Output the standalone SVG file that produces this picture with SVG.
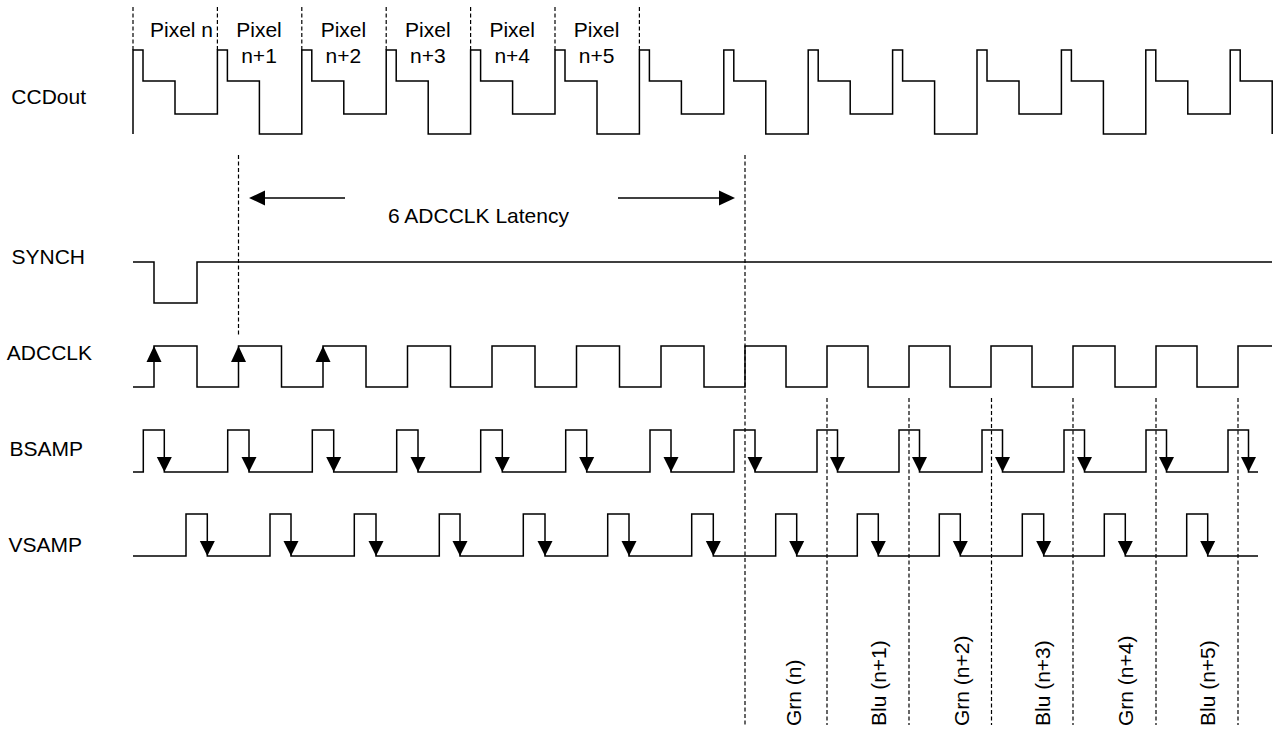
<svg xmlns="http://www.w3.org/2000/svg" xmlns:xlink="http://www.w3.org/1999/xlink" width="1276" height="729" viewBox="0 0 1276 729">
<style>
  .bg { fill: #ffffff; }
  .wave { fill: none; stroke: #000; stroke-width: 1.5; stroke-linejoin: miter; }
  .dash { fill: none; stroke: #000; stroke-width: 1.2; stroke-dasharray: 4 2.5; }
  .line { fill: none; stroke: #000; stroke-width: 1.5; }
  .head { fill: #000; stroke: none; }
  .lbl { font-family: "Liberation Sans", Arial, Helvetica, sans-serif; font-size: 21px; fill: #000; }
  .mid { text-anchor: middle; }
  .end { text-anchor: end; }
</style>
<defs>
  <path id="ahDown" class="head" d="M0,0 L-7.5,-15 L7.5,-15 Z"/>
  <path id="ahUp" class="head" d="M0,0 L-7.5,16 L7.5,16 Z"/>
  <path id="ahLeft" class="head" d="M0,0 L16,-7.5 L16,7.5 Z"/>
  <path id="ahRight" class="head" d="M0,0 L-16,-7.5 L-16,7.5 Z"/>
</defs>
<rect class="bg" x="0" y="0" width="1276" height="729"/>

<g id="ccdout">
  <text class="lbl end" x="86" y="104">CCDout</text>
  <path class="wave" d="M133,134 V50 H143 V81 H175 V114 H217.4 V50 H227.4 V81 H259.4 V134 H301.8 V50 H311.8 V81 H343.8 V114 H386.2 V50 H396.2 V81 H428.2 V134 H470.6 V50 H480.6 V81 H512.6 V114 H555 V50 H565 V81 H597 V134 H639.4 V50 H649.4 V81 H681.4 V114 H723.8 V50 H733.8 V81 H765.8 V134 H808.2 V50 H818.2 V81 H850.2 V114 H892.6 V50 H902.6 V81 H934.6 V134 H977 V50 H987 V81 H1019 V114 H1061.4 V50 H1071.4 V81 H1103.4 V134 H1145.8 V50 H1155.8 V81 H1187.8 V114 H1230.2 V50 H1240.2 V81 H1272.2 V134"/>
</g>

<g id="pixel-labels">
  <path class="dash" d="M133,7 V50 M217.4,7 V50 M301.8,7 V50 M386.2,7 V50 M470.6,7 V50 M555,7 V50 M639.4,7 V50"/>
  <text class="lbl" x="150" y="37">Pixel n</text>
  <text class="lbl mid" x="259" y="37">Pixel</text>
  <text class="lbl mid" x="259" y="63">n+1</text>
  <text class="lbl mid" x="343.4" y="37">Pixel</text>
  <text class="lbl mid" x="343.4" y="63">n+2</text>
  <text class="lbl mid" x="427.8" y="37">Pixel</text>
  <text class="lbl mid" x="427.8" y="63">n+3</text>
  <text class="lbl mid" x="512.2" y="37">Pixel</text>
  <text class="lbl mid" x="512.2" y="63">n+4</text>
  <text class="lbl mid" x="596.6" y="37">Pixel</text>
  <text class="lbl mid" x="596.6" y="63">n+5</text>
</g>

<g id="synch">
  <text class="lbl end" x="85" y="264">SYNCH</text>
  <path class="wave" d="M133,262 H154 V303 H197 V262 H1272"/>
</g>

<g id="adcclk">
  <text class="lbl end" x="92" y="360">ADCCLK</text>
  <path class="wave" d="M133,387 H154 V346 H197 V387 H238.5 V346 H281.5 V387 H323 V346 H366 V387 H407.5 V346 H450.5 V387 H492 V346 H535 V387 H576.5 V346 H619.5 V387 H661 V346 H704 V387 H745 V346 H786 V387 H827 V346 H868 V387 H909 V346 H950 V387 H991 V346 H1032 V387 H1073 V346 H1115 V387 H1156 V346 H1197 V387 H1238 V346 H1272"/>
  <use href="#ahUp" xlink:href="#ahUp" x="154" y="346"/>
  <use href="#ahUp" xlink:href="#ahUp" x="238.5" y="346"/>
  <use href="#ahUp" xlink:href="#ahUp" x="323" y="346"/>
</g>

<g id="bsamp">
  <text class="lbl end" x="83" y="456">BSAMP</text>
  <path class="wave" d="M133,472 H143.3 V430 H164.3 V472 H227.7 V430 H249 V472 H312.3 V430 H333.7 V472 H396.7 V430 H418 V472 H480.7 V430 H502.3 V472 H565.7 V430 H586.7 V472 H650 V430 H671 V472 H734 V430 H755 V472 H817 V430 H837.5 V472 H899 V430 H919.5 V472 H982 V430 H1002.5 V472 H1064 V430 H1084.5 V472 H1146 V430 H1166.5 V472 H1228 V430 H1248.5 V472 H1258"/>
  <use href="#ahDown" xlink:href="#ahDown" x="164.3" y="472"/>
  <use href="#ahDown" xlink:href="#ahDown" x="249" y="472"/>
  <use href="#ahDown" xlink:href="#ahDown" x="333.7" y="472"/>
  <use href="#ahDown" xlink:href="#ahDown" x="418" y="472"/>
  <use href="#ahDown" xlink:href="#ahDown" x="502.3" y="472"/>
  <use href="#ahDown" xlink:href="#ahDown" x="586.7" y="472"/>
  <use href="#ahDown" xlink:href="#ahDown" x="671" y="472"/>
  <use href="#ahDown" xlink:href="#ahDown" x="755" y="472"/>
  <use href="#ahDown" xlink:href="#ahDown" x="837.5" y="472"/>
  <use href="#ahDown" xlink:href="#ahDown" x="919.5" y="472"/>
  <use href="#ahDown" xlink:href="#ahDown" x="1002.5" y="472"/>
  <use href="#ahDown" xlink:href="#ahDown" x="1084.5" y="472"/>
  <use href="#ahDown" xlink:href="#ahDown" x="1166.5" y="472"/>
  <use href="#ahDown" xlink:href="#ahDown" x="1248.5" y="472"/>
</g>

<g id="vsamp">
  <text class="lbl end" x="82" y="552">VSAMP</text>
  <path class="wave" d="M133,556 H186 V514 H207.3 V556 H270 V514 H291 V556 H354.3 V514 H376 V556 H439.3 V514 H460 V556 H523.3 V514 H545 V556 H607.7 V514 H629 V556 H691.7 V514 H713.3 V556 H775.7 V514 H796.7 V556 H857.3 V514 H878.3 V556 H939.3 V514 H960.3 V556 H1022.3 V514 H1043.7 V556 H1104.3 V514 H1125.3 V556 H1186.7 V514 H1207.7 V556 H1258"/>
  <use href="#ahDown" xlink:href="#ahDown" x="207.3" y="556"/>
  <use href="#ahDown" xlink:href="#ahDown" x="291" y="556"/>
  <use href="#ahDown" xlink:href="#ahDown" x="376" y="556"/>
  <use href="#ahDown" xlink:href="#ahDown" x="460" y="556"/>
  <use href="#ahDown" xlink:href="#ahDown" x="545" y="556"/>
  <use href="#ahDown" xlink:href="#ahDown" x="629" y="556"/>
  <use href="#ahDown" xlink:href="#ahDown" x="713.3" y="556"/>
  <use href="#ahDown" xlink:href="#ahDown" x="796.7" y="556"/>
  <use href="#ahDown" xlink:href="#ahDown" x="878.3" y="556"/>
  <use href="#ahDown" xlink:href="#ahDown" x="960.3" y="556"/>
  <use href="#ahDown" xlink:href="#ahDown" x="1043.7" y="556"/>
  <use href="#ahDown" xlink:href="#ahDown" x="1125.3" y="556"/>
  <use href="#ahDown" xlink:href="#ahDown" x="1207.7" y="556"/>
</g>

<g id="connectors">
  <path class="dash" d="M238.5,155 V337 M745,155 V725 M827,398 V725 M909,398 V725 M991.5,398 V725 M1073,398 V725 M1156,398 V725 M1238,398 V725"/>
  <line class="line" x1="345" y1="198" x2="262" y2="198"/>
  <use href="#ahLeft" xlink:href="#ahLeft" x="249" y="198"/>
  <line class="line" x1="618" y1="198" x2="722" y2="198"/>
  <use href="#ahRight" xlink:href="#ahRight" x="735" y="198"/>
</g>

<g id="latency-label">
  <text class="lbl" x="388" y="223">6 ADCCLK Latency</text>
</g>

<g id="sample-labels">
  <text class="lbl" transform="translate(801,726) rotate(-90)">Grn (n)</text>
  <text class="lbl" transform="translate(886,726) rotate(-90)">Blu (n+1)</text>
  <text class="lbl" transform="translate(969,726) rotate(-90)">Grn (n+2)</text>
  <text class="lbl" transform="translate(1050,726) rotate(-90)">Blu (n+3)</text>
  <text class="lbl" transform="translate(1133,726) rotate(-90)">Grn (n+4)</text>
  <text class="lbl" transform="translate(1215,726) rotate(-90)">Blu (n+5)</text>
</g>
</svg>
